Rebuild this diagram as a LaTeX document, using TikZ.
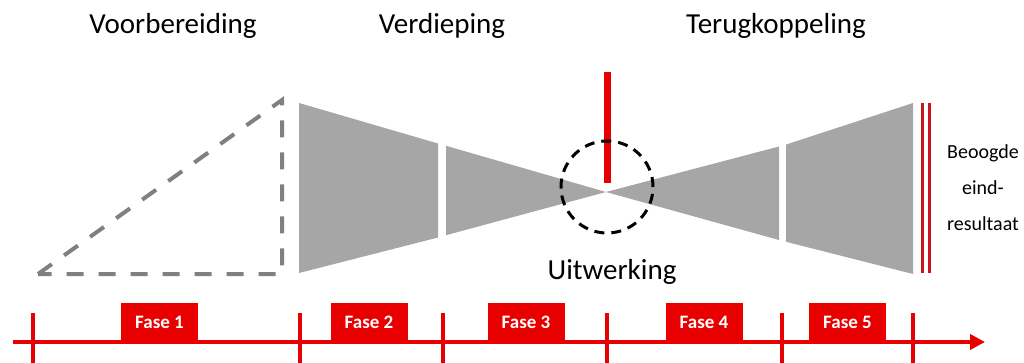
\documentclass[tikz,border=0pt]{standalone}
\usepackage{fontspec}
\setmainfont{Carlito}
\usetikzlibrary{arrows.meta}
\definecolor{tlred}{RGB}{232,0,0}
\definecolor{endred}{RGB}{200,20,30}
\definecolor{shapegray}{RGB}{166,166,166}
\definecolor{dashgray}{RGB}{128,128,128}
\tikzset{
  title/.style={font=\fontsize{29}{34}\selectfont, text=black, inner sep=0pt},
  fasebox/.style={fill=tlred, text=white, font=\fontsize{19}{22}\selectfont\bfseries,
    minimum width=77pt, minimum height=39pt, inner sep=0pt},
  tick/.style={draw=tlred, line width=4pt},
  grayshape/.style={fill=shapegray, draw=none},
}
\begin{document}
\begin{tikzpicture}[x=1pt,y=-1pt]
\useasboundingbox (0,0) rectangle (1024,363);

% titles
\node[title] (t1) at (173,26) {Voorbereiding};
\node[title] (t2) at (442,26) {Verdieping};
\node[title] (t3) at (776,26) {Terugkoppeling};
\node[title] (t4) at (612,272) {Uitwerking};

% dashed triangle
\draw[dashgray, line width=4pt, dash pattern=on 17pt off 15pt]
  (38,274) -- (282,100) -- (282,274) -- cycle;

% bow-tie shapes
\fill[grayshape] (299,103) -- (438,143.5) -- (438,237.5) -- (299,273) -- cycle;
\fill[grayshape] (446,145.8) -- (606,192) -- (446,235.2) -- cycle;
\fill[grayshape] (606,192) -- (779,146.5) -- (779,240) -- cycle;
\fill[grayshape] (786,144.6) -- (913,103) -- (913,274) -- (786,241.8) -- cycle;

% red end lines
\draw[endred, line width=3pt] (922,103) -- (922,273);
\draw[endred, line width=3pt] (929,103) -- (929,273);

% red vertical line and dashed circle
\draw[tlred, line width=7pt] (607,72) -- (607,183);
\draw[black, line width=3pt, dash pattern=on 10pt off 7pt] (607,187) circle (46pt);

% end result text
\node[align=center, font=\fontsize{20}{36}\selectfont, inner sep=0pt] (res) at (983,188) {Beoogde\\eind-\\resultaat};

% timeline
\coordinate (tlstart) at (13,342);
\coordinate (tlend) at (985,342);
\draw[tlred, line width=4pt, -{Triangle[length=15pt,width=15pt]}] (tlstart) -- (tlend);
\foreach \x in {33,300,443,607,782,913} {
  \draw[tick] (\x,313) -- (\x,363);
}

% phase boxes
\node[fasebox] (f1) at (159.5,322) {Fase 1};
\node[fasebox] (f2) at (369,322) {Fase 2};
\node[fasebox] (f3) at (526,322) {Fase 3};
\node[fasebox] (f4) at (704,322) {Fase 4};
\node[fasebox] (f5) at (847.5,322) {Fase 5};
\end{tikzpicture}
\end{document}
